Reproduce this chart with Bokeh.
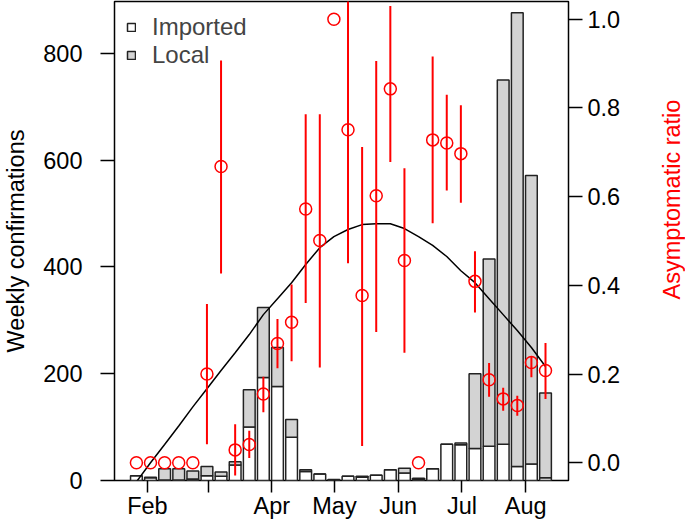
import math
from bokeh.plotting import figure
from bokeh.layouts import row
from bokeh.models import (Range1d, LinearAxis, FixedTicker, Legend, LegendItem,
                          PrintfTickFormatter, Label)
from bokeh.embed import file_html
from bokeh.resources import INLINE

# ---- data ----
week = list(range(1, 31))
imported = [9, 5, 1, 1, 3, 9, 8, 29, 100, 193, 176, 81, 17, 12, 1, 8, 6, 10, 20, 14,
            2, 22, 68, 67, 60, 64, 68, 26, 31, 5]
local = [0, 1, 21, 21, 15, 17, 8, 6, 70, 131, 73, 33, 3, 0, 1, 0, 2, 0, 0, 9,
         2, 0, 0, 3, 140, 351, 682, 850, 540, 159]
ratio = [0.0, 0.0, 0.0, 0.0, 0.0, 0.20, 0.668, 0.029, 0.041, 0.155, 0.269, 0.317,
         0.572, 0.501, 1.0, 0.751, 0.377, 0.602, 0.843, 0.456, 0.0, 0.728, 0.721,
         0.697, 0.409, 0.187, 0.144, 0.129, 0.226, 0.208]
ratio_lo = [0.0, 0.0, 0.0, 0.0, 0.0, 0.042, 0.427, -0.029, 0.011, 0.114, 0.213, 0.229,
            0.36, 0.215, 1.0, 0.45, 0.038, 0.295, 0.678, 0.248, 0.0, 0.540, 0.614,
            0.586, 0.339, 0.149, 0.117, 0.106, 0.193, 0.144]
ratio_hi = [0.0, 0.0, 0.0, 0.0, 0.0, 0.358, 0.907, 0.087, 0.072, 0.194, 0.324, 0.402,
            0.786, 0.786, 1.0, 1.06, 0.712, 0.906, 1.03, 0.664, 0.0, 0.916, 0.830,
            0.806, 0.477, 0.225, 0.169, 0.151, 0.240, 0.270]
curve = [-0.043, 0.0, 0.041, 0.083, 0.126, 0.167, 0.208, 0.248, 0.289, 0.334, 0.370,
         0.406, 0.447, 0.485, 0.510, 0.526, 0.537, 0.539, 0.539, 0.528, 0.510, 0.490,
         0.465, 0.433, 0.406, 0.370, 0.334, 0.298, 0.260, 0.217]
month_pos = [1.78, 6.08, 10.6, 15.04, 19.56, 24.08, 28.6]
month_lab = ["Feb", "", "Apr", "May", "Jun", "Jul", "Aug"]
left_ticks = [0, 200, 400, 600, 800]
right_ticks = [0.0, 0.2, 0.4, 0.6, 0.8, 1.0]

total = [a + b for a, b in zip(imported, local)]

FONT = "Liberation Sans"
FS = "23.5px"

p = figure(width=652, height=521, output_backend="svg", toolbar_location=None,
           x_range=Range1d(-0.553, 31.63), y_range=Range1d(0, 897),
           min_border_left=112, min_border_right=84, min_border_top=1,
           min_border_bottom=41)
p.background_fill_color = "white"
p.border_fill_color = "white"
p.xgrid.visible = False
p.ygrid.visible = False
p.outline_line_color = "black"
p.outline_line_width = 1.5

p.extra_y_ranges = {"ratio": Range1d(-0.04, 1.04)}

# bars
r_imp = p.vbar(x=week, bottom=0, top=imported, width=0.833, fill_color="white",
               line_color="#222222", line_width=1.5)
r_loc = p.vbar(x=week, bottom=imported, top=total, width=0.833, fill_color="#D3D3D3",
               line_color="#222222", line_width=1.5)

# fitted curve
p.line(week, curve, y_range_name="ratio", line_color="black", line_width=1.5)

# error bars and points
p.segment(x0=week, y0=ratio_lo, x1=week, y1=ratio_hi, y_range_name="ratio",
          line_color="red", line_width=2)
p.scatter(week, ratio, y_range_name="ratio", marker="circle", size=12,
          fill_color=None, line_color="red", line_width=1.5)

# axes
def style_axis(ax):
    ax.axis_line_color = None
    ax.major_tick_line_color = "black"
    ax.major_tick_line_width = 1.5
    ax.major_tick_in = 0
    ax.major_tick_out = 14
    ax.minor_tick_line_color = None
    ax.major_label_text_font = FONT
    ax.major_label_text_font_size = FS
    ax.major_label_text_color = "black"
    ax.axis_label_text_font = FONT
    ax.axis_label_text_font_size = FS
    ax.axis_label_text_font_style = "normal"
    ax.axis_label_text_color = "black"

xa = p.xaxis[0]
xa.ticker = FixedTicker(ticks=month_pos)
xa.major_label_overrides = {pos: lab for pos, lab in zip(month_pos, month_lab)}
style_axis(xa)
xa.major_tick_out = 12
xa.major_label_standoff = 0
xa.axis_label = None
xa.axis_label_standoff = 0

ya = p.yaxis[0]
ya.ticker = FixedTicker(ticks=left_ticks)
style_axis(ya)
ya.major_label_standoff = 18
ya.axis_label = "Weekly confirmations"
ya.axis_label_standoff = 11

ra = LinearAxis(y_range_name="ratio", ticker=FixedTicker(ticks=right_ticks),
                formatter=PrintfTickFormatter(format="%.1f"))
style_axis(ra)
ra.major_label_standoff = 5
p.add_layout(ra, "right")

# legend
legend = Legend(items=[LegendItem(label="Imported", renderers=[r_imp]),
                       LegendItem(label="Local", renderers=[r_loc])],
                location="top_left")
legend.margin = 12
legend.padding = 14
legend.spacing = -3
legend.glyph_width = 10
legend.glyph_height = 10
legend.label_standoff = 16
legend.label_text_font = FONT
legend.label_text_font_size = "24px"
legend.background_fill_alpha = 0
legend.border_line_color = None
p.add_layout(legend)

# narrow strip on the right holding the right-hand axis title (reads bottom to top)
t = figure(width=33, height=521, output_backend="svg", toolbar_location=None,
           x_axis_type=None, y_axis_type=None, min_border=0,
           x_range=Range1d(0, 1), y_range=Range1d(0, 1))
t.outline_line_color = None
t.background_fill_color = "white"
t.border_fill_color = "white"
t.xgrid.visible = False
t.ygrid.visible = False
rtitle = Label(x=19, y=281, x_units="screen", y_units="screen",
               text="Asymptomatic ratio", angle=math.pi / 2,
               text_align="center", text_baseline="middle",
               text_font=FONT, text_font_size=FS, text_color="red")
t.add_layout(rtitle)

layout = row(p, t, spacing=0)
open("out.html", "w").write(file_html(layout, INLINE))
